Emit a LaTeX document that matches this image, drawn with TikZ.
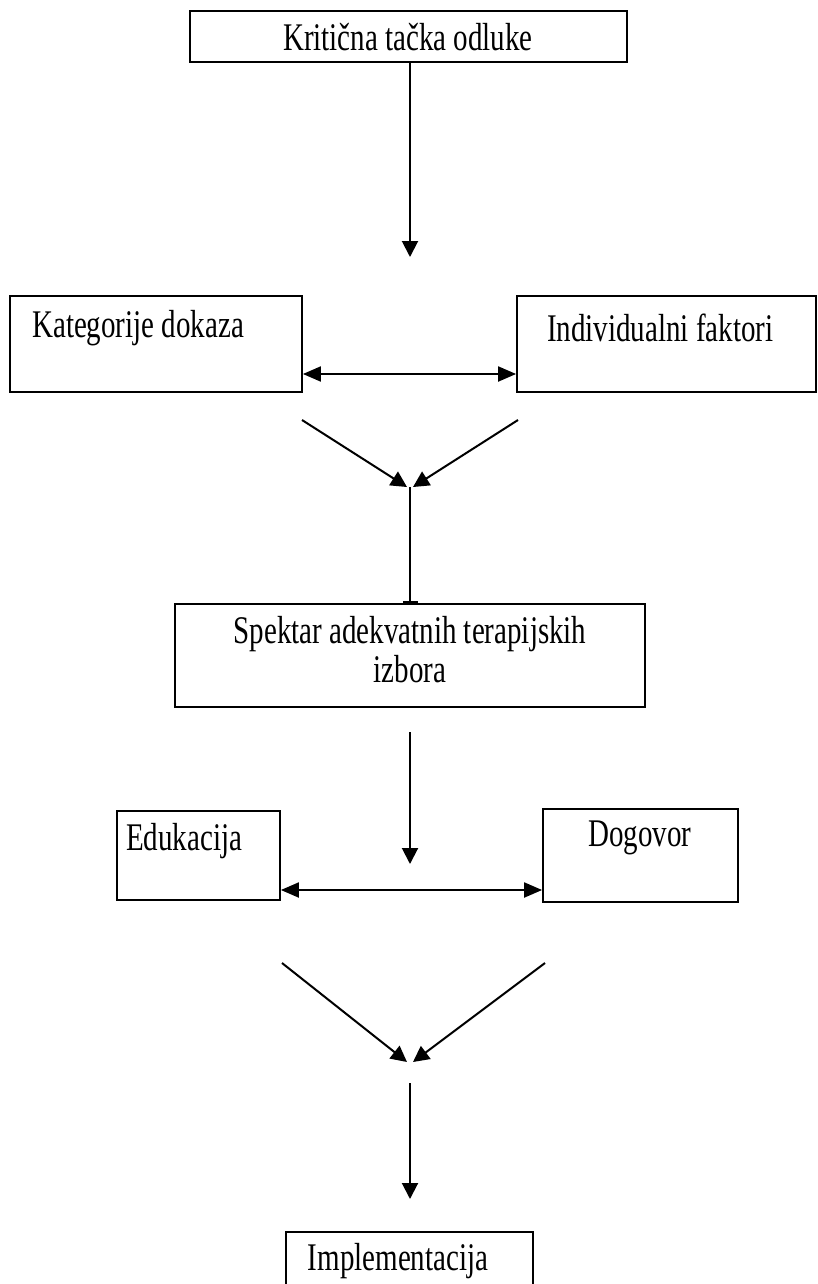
\documentclass[tikz,border=0pt]{standalone}
\usepackage{fontspec}
\usepackage{graphicx}
\setmainfont{Liberation Serif}
\usetikzlibrary{arrows.meta}
\newcommand{\tallt}[1]{\scalebox{1}[1.35]{#1}}
\tikzset{
	box/.style={draw, line width=1.8pt, inner sep=0pt},
	txt/.style={inner sep=0pt, font=\fontsize{29}{28}\selectfont},
	arr/.style={line width=2pt, -{Triangle[length=16pt,width=16pt]}},
	darr/.style={line width=2pt, {Triangle[length=18pt,width=15pt]}-{Triangle[length=18pt,width=15pt]}}
}
\begin{document}
\begin{tikzpicture}[x=1pt,y=-1pt]
			\useasboundingbox (0,0) rectangle (817,1284);
			
			\node[box, minimum width=437pt, minimum height=51pt] (krit) at (408.5,36.5) {};
			\node[txt] (krit-t) at (408,37) {\tallt{Kritična tačka odluke}};
			\coordinate (a1) at (410,257);
			\draw[arr] (krit.south -| a1) -- (a1);
			
			\node[box, minimum width=292pt, minimum height=96pt] (kat) at (156,344) {};
			\node[txt, anchor=west] (kat-t) at (32,328) {\tallt{Kategorije dokaza}};
			\node[box, minimum width=299pt, minimum height=96pt] (ind) at (666.5,344) {};
			\node[txt, anchor=west] (ind-t) at (547,328) {\tallt{Individualni faktori}};
			\coordinate (b1) at (410,374);
			\draw[darr] (kat.east |- b1) -- (ind.west |- b1);
			
			\coordinate (yl1) at (302,420);
			\coordinate (yr1) at (518,420);
			\coordinate (yj1) at (410,487);
			\draw[arr] (yl1) -- ([xshift=-3pt]yj1);
			\draw[arr] (yr1) -- ([xshift=3pt]yj1);
			
			\node[box, minimum width=470pt, minimum height=103pt] (spek) at (410,655.5) {};
			\node[txt] (spek-t) at (410,655) {\tallt{\begin{tabular}{@{}c@{}}Spektar adekvatnih terapijskih\\izbora\end{tabular}}};
			\draw[line width=2pt, -{Bar[width=15pt]}] (yj1) -- (spek.north -| yj1);
			
			\coordinate (d1) at (410,732);
			\coordinate (d2) at (410,864);
			\draw[arr] (d1) -- (d2);
			
			\node[box, minimum width=163pt, minimum height=89pt] (edu) at (198.5,855.5) {};
			\node[txt] (edu-t) at (184,841) {\tallt{Edukacija}};
			\node[box, minimum width=195pt, minimum height=93pt] (dog) at (640.5,855.5) {};
			\node[txt] (dog-t) at (640,838) {\tallt{Dogovor}};
			\coordinate (e1) at (410,890);
			\draw[darr] (edu.east |- e1) -- (dog.west |- e1);
			
			\coordinate (yl2) at (282,963);
			\coordinate (yr2) at (545,963);
			\coordinate (yj2) at (410,1062);
			\draw[arr] (yl2) -- ([xshift=-3pt]yj2);
			\draw[arr] (yr2) -- ([xshift=3pt]yj2);
			
			\coordinate (g1) at (410,1083);
			\coordinate (g2) at (410,1199);
			\draw[arr] (g1) -- (g2);
			
			\node[box, minimum width=247pt, minimum height=68pt] (impl) at (409.5,1266) {};
			\node[txt] (impl-t) at (398,1261) {\tallt{Implementacija}};
			
		\end{tikzpicture}
\end{document}
